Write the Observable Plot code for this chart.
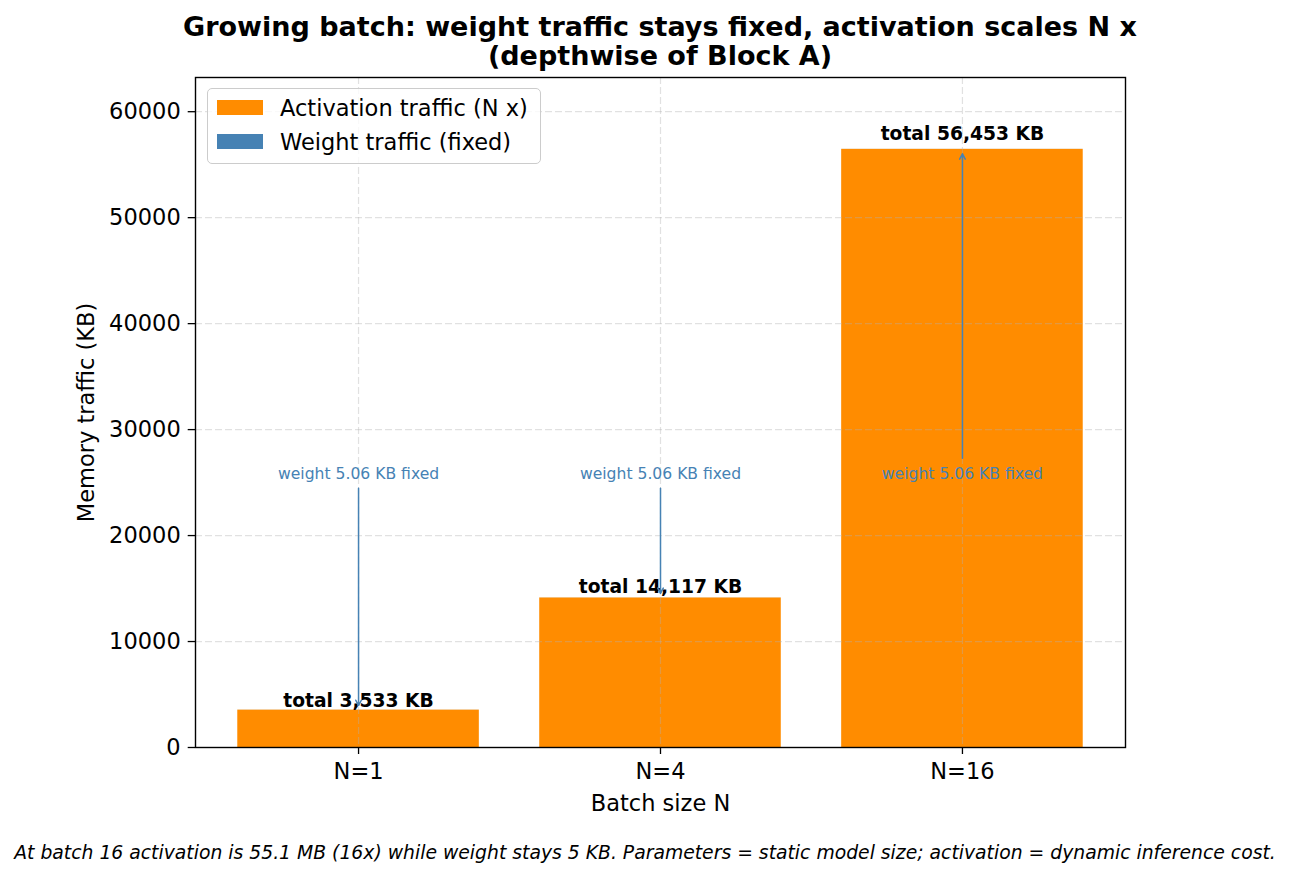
<!DOCTYPE html>
<html>
<head>
<meta charset="utf-8">
<script src="https://cdn.jsdelivr.net/npm/d3@7"></script>
<script src="https://cdn.jsdelivr.net/npm/@observablehq/plot@0.6"></script>
<style>
  html, body { margin: 0; padding: 0; background: #fff; }
  #wrap { position: relative; width: 1290px; height: 879px; font-family: "DejaVu Sans", sans-serif; color: #000; overflow: hidden; }
  #title { position: absolute; left: 30px; top: 12px; width: 1260px; text-align: center; font-weight: bold; font-size: 27px; line-height: 29px; }
  #chart { position: absolute; left: 0; top: 70px; }
  #legend { position: absolute; left: 207px; top: 88px; width: 334px; height: 76px; box-sizing: border-box; border: 1.2px solid #cccccc; border-radius: 5px; background: rgba(255,255,255,0.8); }
  .item { position: absolute; left: 0; height: 30px; width: 330px; }
  .swatch { position: absolute; left: 9px; width: 46px; height: 15px; }
  .label { position: absolute; left: 72px; font-size: 22.5px; line-height: 30px; top: -7px; white-space: nowrap; }
  #caption { position: absolute; left: 0; top: 841px; width: 1290px; text-align: center; font-style: italic; font-size: 18.8px; line-height: 24px; white-space: nowrap; }
</style>
</head>
<body>
<div id="wrap">
  <div id="title">Growing batch: weight traffic stays fixed, activation scales N x<br>(depthwise of Block A)</div>
  <div id="chart"></div>
  <div id="legend"></div>
  <div id="caption">At batch 16 activation is 55.1 MB (16x) while weight stays 5 KB. Parameters = static model size; activation = dynamic inference cost.</div>
</div>
<script>
// ---- data ----
const batches = ["N=1", "N=4", "N=16"];
const activationKB = [3527.94, 14111.94, 56447.94];
const weightKB = [5.06, 5.06, 5.06];
const seriesNames = ["Activation traffic (N x)", "Weight traffic (fixed)"];
const seriesColors = ["#ff8c00", "#4682b4"];
const yTicks = [0, 10000, 20000, 30000, 40000, 50000, 60000];
const xLabel = "Batch size N";
const yLabel = "Memory traffic (KB)";

// ---- derived tables ----
const rows = [];
batches.forEach((b, i) => {
  rows.push({batch: b, series: seriesNames[0], value: activationKB[i]});
  rows.push({batch: b, series: seriesNames[1], value: weightKB[i]});
});
const totals = batches.map((b, i) => ({batch: b, total: activationKB[i] + weightKB[i], weight: weightKB[i]}));
const maxTotal = d3.max(totals, d => d.total);
const annotY = maxTotal * 0.45;
const annots = totals.map(d => ({...d, annotY}));
const fmt = d3.format(",.0f");

const chart = Plot.plot({
  width: 1290,
  height: 770,
  marginTop: 7,
  marginBottom: 93,
  marginLeft: 195,
  marginRight: 165,
  style: {fontFamily: "DejaVu Sans", fontSize: "22.5px", color: "#000", background: "transparent"},
  x: {type: "band", domain: batches, paddingInner: 0.2, paddingOuter: 0.14, align: 0.5, round: false, label: null},
  y: {domain: [0, maxTotal * 1.12], label: null},
  color: {domain: seriesNames, range: seriesColors},
  marks: [
    Plot.barY(rows, {x: "batch", y: "value", fill: "series"}),
    Plot.gridY({ticks: yTicks, stroke: "#b0b0b0", strokeOpacity: 0.38, strokeDasharray: "7,3", strokeWidth: 1.2}),
    Plot.gridX({stroke: "#b0b0b0", strokeOpacity: 0.38, strokeDasharray: "7,3", strokeWidth: 1.2}),
    Plot.axisY({ticks: yTicks, tickSize: 7.3, tickPadding: 7.5, tickFormat: d3.format("d"), label: null, strokeWidth: 1.3}),
    Plot.axisX({tickSize: 7, tickPadding: 8.5, label: null, strokeWidth: 1.3}),
    // total labels
    Plot.text(totals, {x: "batch", y: d => d.total * 1.01, text: d => `total ${fmt(d.total)} KB`, lineAnchor: "bottom", dy: -3, fontWeight: "bold", fontSize: 18.7, fill: "#000"}),
    // weight annotations
    Plot.text(annots, {x: "batch", y: "annotY", text: d => `weight ${d.weight.toFixed(2)} KB fixed`, lineAnchor: "bottom", dy: 0.5, fontSize: 15.6, fill: "#4682b4"}),
    Plot.arrow(annots.filter(d => d.total < d.annotY), {x1: "batch", x2: "batch", y1: "annotY", y2: "total", stroke: "#4682b4", strokeWidth: 1.5, headLength: 6, headAngle: 55, insetStart: 10, insetEnd: 4.5}),
    Plot.arrow(annots.filter(d => d.total >= d.annotY), {x1: "batch", x2: "batch", y1: "annotY", y2: "total", stroke: "#4682b4", strokeWidth: 1.5, headLength: 6, headAngle: 55, insetStart: 20, insetEnd: 4.5}),
    // axis titles
    Plot.text([xLabel], {frameAnchor: "bottom", text: d => d, lineAnchor: "top", dy: 48, fontSize: 22.5, fill: "#000"}),
    Plot.text([yLabel], {frameAnchor: "left", text: d => d, rotate: -90, lineAnchor: "top", textAnchor: "middle", dx: -117, fontSize: 22.5, fill: "#000"}),
    Plot.frame({stroke: "#000", strokeWidth: 1.4})
  ]
});
document.getElementById("chart").appendChild(chart);

// legend (HTML overlay inside the axes, top-left)
const legend = document.getElementById("legend");
seriesNames.forEach((name, i) => {
  const item = document.createElement("div");
  item.className = "item";
  item.style.top = (11 + i * 34) + "px";
  const sw = document.createElement("div");
  sw.className = "swatch";
  sw.style.background = seriesColors[i];
  const lb = document.createElement("div");
  lb.className = "label";
  lb.textContent = name;
  item.appendChild(sw);
  item.appendChild(lb);
  legend.appendChild(item);
});
</script>
</body>
</html>
